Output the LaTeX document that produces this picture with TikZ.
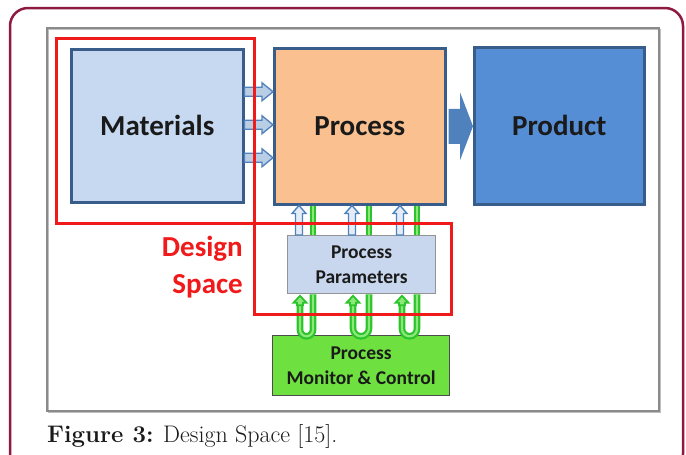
\documentclass[tikz,border=0pt]{standalone}
\usepackage{fontspec}
\newfontfamily\carl{Carlito}
\usetikzlibrary{calc}
\definecolor{framered}{HTML}{8E1B3F}
\definecolor{panelgray}{HTML}{8A8A8A}
\definecolor{boxborder}{HTML}{385D8A}
\definecolor{matfill}{HTML}{C6D9F1}
\definecolor{procfill}{HTML}{FAC090}
\definecolor{prodfill}{HTML}{558ED5}
\definecolor{arrowblue}{HTML}{4F81BD}
\definecolor{lightarrow}{HTML}{B9CDE5}
\definecolor{hollowfill}{HTML}{E4ECF7}
\definecolor{dsred}{HTML}{F01A1A}
\definecolor{ppfill}{HTML}{C8D7EE}
\definecolor{pmcfill}{HTML}{6EE040}
\definecolor{tubegreen}{HTML}{2CC42C}
\definecolor{tubelight}{HTML}{8CE878}
\definecolor{textdark}{HTML}{1A1A1A}
% horizontal block arrow: style, start, tip, shaft half, head half, head length
\newcommand\harr[6]{\path[#1] let \p1=#2, \p2=#3 in
  (\x1,\y1+#4) -- (\x2-#6,\y1+#4) -- (\x2-#6,\y1+#5) -- (\x2,\y1) --
  (\x2-#6,\y1-#5) -- (\x2-#6,\y1-#4) -- (\x1,\y1-#4) -- cycle;}
% vertical (upward) block arrow: style, start, tip, shaft half, head half, head length
\newcommand\varr[6]{\path[#1] let \p1=#2, \p2=#3 in
  (\x1-#4,\y1) -- (\x1-#4,\y2-#6) -- (\x1-#5,\y2-#6) -- (\x1,\y2) --
  (\x1+#5,\y2-#6) -- (\x1+#4,\y2-#6) -- (\x1+#4,\y1) -- cycle;}
\begin{document}
\begin{tikzpicture}[x=1pt,y=-1pt,
  box/.style={draw=boxborder, line width=2.5pt, anchor=north west, inner sep=0pt,
    font=\carl\bfseries\fontsize{29}{35}\selectfont, text=textdark},
  dsbox/.style={draw=dsred, line width=2.5pt, anchor=north west, inner sep=0pt},
  smallbox/.style={anchor=north west, inner sep=0pt, align=center,
    font=\carl\bfseries\fontsize{19.5}{25}\selectfont, text=textdark},
  matarrow/.style={fill=lightarrow, draw=arrowblue, line width=1.3pt},
  bigarrow/.style={fill=arrowblue},
  uparrow/.style={fill=hollowfill, draw=arrowblue, line width=1.4pt},
  tube/.style={draw=tubegreen, line width=2.2pt, double=tubelight, double distance=2.2pt},
  tubehead/.style={fill=tubelight, draw=tubegreen, line width=1.8pt, line join=miter}]
\useasboundingbox (0,0) rectangle (686,455);
\fill[white] (0,0) rectangle (686,455);
\begin{scope}
  \clip (0,0) rectangle (686,455);
  \draw[framered, line width=2.5pt, rounded corners=18pt] (10,8) rectangle (683,472);
\end{scope}
% panel
\draw[black!25, line width=1.5pt] (48.5,29.5) rectangle (660,412);
\node[draw=panelgray, line width=2pt, anchor=north west, inner sep=0pt,
  minimum width=612, minimum height=383] (panel) at (46,27) {};
% main boxes
\node[box, fill=matfill, minimum width=172, minimum height=153] (mat) at (70,48) {Materials};
\node[box, fill=procfill, minimum width=171, minimum height=156] (proc) at (273,47) {Process};
\node[box, fill=prodfill, minimum width=170, minimum height=157] (prod) at (473,46) {Product};
% process parameters and monitor
\node[smallbox, fill=ppfill, draw=gray!85, line width=1.3pt,
  minimum width=148, minimum height=58] (pp) at (287,235) {Process\\Parameters};
\node[smallbox, fill=pmcfill, draw=black!70, line width=1.2pt,
  minimum width=177, minimum height=60] (pmc) at (272,335) {Process\\Monitor \& Control};
% materials -> process arrows
\harr{matarrow}{($(mat.east)+(0,-34)$)}{(proc.west)}{4.5}{9}{11}
\harr{matarrow}{($(mat.east)+(0,-1)$)}{(proc.west)}{4.5}{9}{11}
\harr{matarrow}{($(mat.east)+(0,32)$)}{(proc.west)}{4.5}{9}{11}
% process -> product
\harr{bigarrow}{($(proc.east)+(2,0)$)}{(prod.west)}{17.5}{34}{13}
% process parameters -> process (blue hollow arrows)
\varr{uparrow}{($(pp.north west)+(12,0)$)}{(proc.south)}{3.5}{7}{8}
\varr{uparrow}{($(pp.north west)+(65,0)$)}{(proc.south)}{3.5}{7}{8}
\varr{uparrow}{($(pp.north west)+(113,0)$)}{(proc.south)}{3.5}{7}{8}
% green tubes up
\coordinate (g1) at ($(pp.north west)+(26,0)$);
\coordinate (g2) at ($(pp.north west)+(82,0)$);
\coordinate (g3) at ($(pp.north west)+(130,0)$);
\draw[tube] (g1) -- (g1 |- proc.south);
\draw[tube] (g2) -- (g2 |- proc.south);
\draw[tube] (g3) -- (g3 |- proc.south);
% U tubes between monitor and parameters
\draw[tube] ($(pp.south west)+(26,0)$) -- ($(pp.south west)+(26,35.5)$)
  arc[start angle=0, end angle=180, radius=6.5] -- ($(pp.south west)+(13,9)$);
\draw[tube] ($(pp.south west)+(82,0)$) -- ($(pp.south west)+(82,34)$)
  arc[start angle=0, end angle=180, radius=8] -- ($(pp.south west)+(66,9)$);
\draw[tube] ($(pp.south west)+(130,0)$) -- ($(pp.south west)+(130,34.5)$)
  arc[start angle=0, end angle=180, radius=7.5] -- ($(pp.south west)+(115,9)$);
\varr{tubehead}{($(pp.south west)+(13,11)$)}{($(pp.south west)+(13,1.5)$)}{3}{6.5}{7}
\varr{tubehead}{($(pp.south west)+(66,11)$)}{($(pp.south west)+(66,1.5)$)}{3}{6.5}{7}
\varr{tubehead}{($(pp.south west)+(115,11)$)}{($(pp.south west)+(115,1.5)$)}{3}{6.5}{7}
% design space frames
\node[dsbox, minimum width=198, minimum height=185] (ds1) at (55,37) {};
\node[dsbox, minimum width=197, minimum height=91] (ds2) at (253,222) {};
\node[anchor=north east, inner sep=0pt, align=right, text=dsred,
  font=\carl\bfseries\fontsize{29}{37}\selectfont] (dslabel) at (243,236) {Design\\Space};
% caption
\node[anchor=base west, inner sep=0pt, text=textdark,
  font=\fontsize{24}{29}\selectfont] (caption) at (47,442)
  {\textbf{Figure 3:} Design Space [15].};
\end{tikzpicture}
\end{document}
